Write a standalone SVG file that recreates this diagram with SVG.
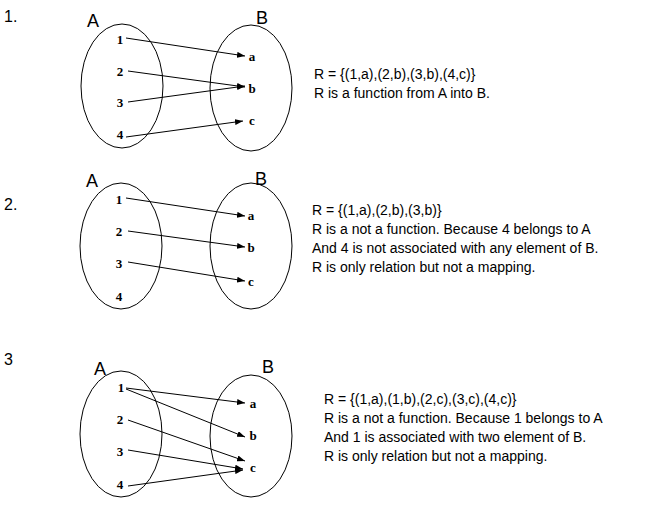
<svg xmlns="http://www.w3.org/2000/svg" width="669" height="505" viewBox="0 0 669 505">
<style>
.e{fill:none;stroke:#000;stroke-width:1}
.n{font-family:"Liberation Serif",serif;font-size:13px;font-weight:bold;text-anchor:middle}
.s{font-family:"Liberation Sans",sans-serif;font-size:18px}
.t{font-family:"Liberation Sans",sans-serif;font-size:14px}
.h{font-family:"Liberation Sans",sans-serif;font-size:16px}
.c line{stroke:#000;stroke-width:1;marker-end:url(#ar)}
</style>
<defs><marker id="ar" markerWidth="8" markerHeight="6" refX="8" refY="3" orient="auto" markerUnits="userSpaceOnUse"><path d="M0,0 L8,3 L0,6 z"/></marker></defs>
<rect width="669" height="505" fill="#fff"/>
<text class="h" x="4" y="22">1.</text>
<text class="h" x="4" y="210">2.</text>
<text class="h" x="4" y="365">3</text>
<g id="d1A"><ellipse class="e" cx="122" cy="86" rx="41" ry="62"/><text class="s" x="87" y="27">A</text>
<text class="n" x="120" y="44">1</text><text class="n" x="120" y="76">2</text><text class="n" x="120" y="107">3</text><text class="n" x="120" y="139">4</text></g>
<g id="d1B"><ellipse class="e" cx="251" cy="88" rx="41" ry="63"/><text class="s" x="256" y="24">B</text>
<text class="n" x="252" y="61">a</text><text class="n" x="252" y="93">b</text><text class="n" x="252" y="125">c</text></g>
<g class="c"><line x1="126" y1="38" x2="245" y2="56"/><line x1="128" y1="71" x2="245" y2="87"/><line x1="128" y1="102" x2="245" y2="86"/><line x1="126" y1="137" x2="243" y2="121"/></g>
<g id="d1T" class="t"><text x="314" y="79">R = {(1,a),(2,b),(3,b),(4,c)}</text><text x="314" y="98">R is a function from A into B.</text></g>

<g id="d2A"><ellipse class="e" cx="121" cy="246" rx="41" ry="63"/><text class="s" x="86" y="187">A</text>
<text class="n" x="119" y="204">1</text><text class="n" x="119" y="236">2</text><text class="n" x="119" y="268">3</text><text class="n" x="119" y="301">4</text></g>
<g id="d2B"><ellipse class="e" cx="251" cy="246" rx="41" ry="63"/><text class="s" x="255" y="185">B</text>
<text class="n" x="251" y="220">a</text><text class="n" x="251" y="252">b</text><text class="n" x="251" y="286">c</text></g>
<g class="c"><line x1="126" y1="198" x2="245" y2="216"/><line x1="128" y1="231" x2="245" y2="247"/><line x1="128" y1="262" x2="245" y2="281"/></g>
<g id="d2T" class="t"><text x="312" y="215">R = {(1,a),(2,b),(3,b)}</text><text x="312" y="234">R is a not a function. Because 4 belongs to A</text><text x="312" y="253">And 4 is not associated with any element of B.</text><text x="312" y="272">R is only relation but not a mapping.</text></g>

<g id="d3A"><ellipse class="e" cx="121" cy="434" rx="41" ry="63"/><text class="s" x="94" y="375">A</text>
<text class="n" x="121" y="392">1</text><text class="n" x="120" y="424">2</text><text class="n" x="120" y="456">3</text><text class="n" x="120" y="489">4</text></g>
<g id="d3B"><ellipse class="e" cx="251" cy="436" rx="41" ry="61"/><text class="s" x="262" y="373">B</text>
<text class="n" x="253" y="408">a</text><text class="n" x="253" y="440">b</text><text class="n" x="253" y="472">c</text></g>
<g class="c"><line x1="126" y1="388" x2="245" y2="403"/><line x1="126" y1="389" x2="245" y2="437"/><line x1="128" y1="420" x2="245" y2="461"/><line x1="128" y1="450" x2="243" y2="469"/><line x1="128" y1="486" x2="243" y2="470"/></g>
<g id="d3T" class="t"><text x="324" y="404">R = {(1,a),(1,b),(2,c),(3,c),(4,c)}</text><text x="324" y="423">R is a not a function. Because 1 belongs to A</text><text x="324" y="442">And 1 is associated with two element of B.</text><text x="324" y="461">R is only relation but not a mapping.</text></g>
</svg>
